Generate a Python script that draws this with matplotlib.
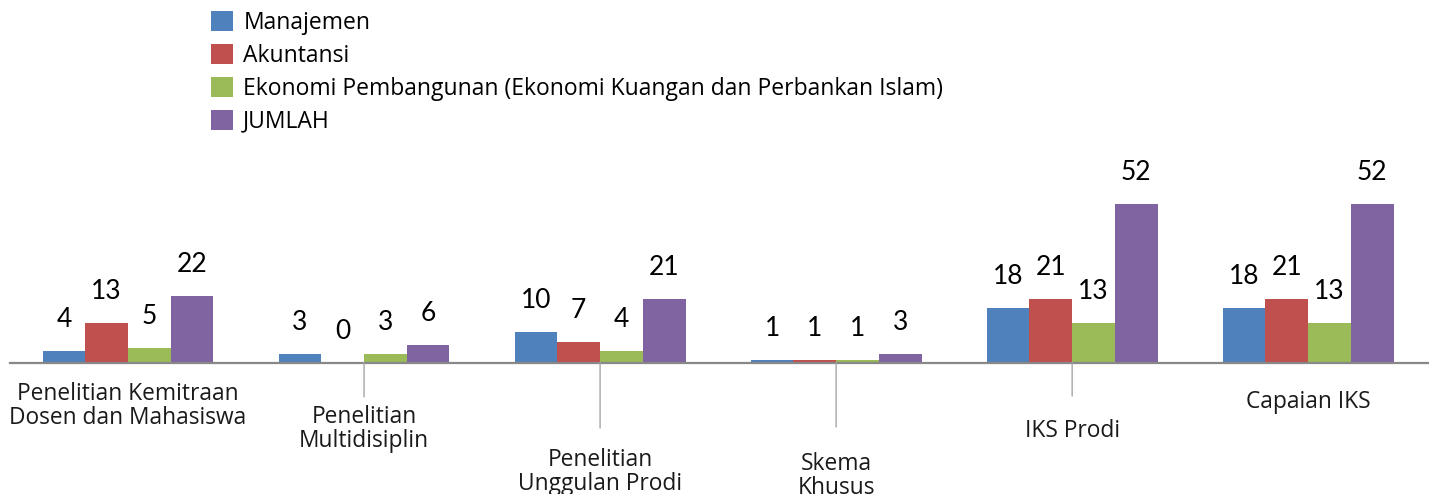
import matplotlib
matplotlib.use("Agg")
import matplotlib.pyplot as plt
from matplotlib.patches import Patch
import numpy as np

categories = ["Penelitian Kemitraan\nDosen dan Mahasiswa", "Penelitian\nMultidisiplin",
              "Penelitian\nUnggulan Prodi", "Skema\nKhusus", "IKS Prodi", "Capaian IKS"]
series_names = ["Manajemen", "Akuntansi",
                "Ekonomi Pembangunan (Ekonomi Kuangan dan Perbankan Islam)", "JUMLAH"]
manajemen = [4, 3, 10, 1, 18, 18]
akuntansi = [13, 0, 7, 1, 21, 21]
ekonomi = [5, 3, 4, 1, 13, 13]
jumlah = [22, 6, 21, 3, 52, 52]
colors = ["#4F81BD", "#C0504D", "#9BBB59", "#8064A2"]

# staggered label layout (px below axis): text top offset, leader line length
label_offset_px = [19, 42, 85, 89, 56, 27]
leader_px = [0, 34, 65, 64, 33, 0]

DPI = 100
W, H = 1429, 494
fig = plt.figure(figsize=(W / DPI, H / DPI), dpi=DPI)
ax = fig.add_axes([10 / W, 131 / H, 1428 / W, 183.6 / H])

series = [manajemen, akuntansi, ekonomi, jumlah]
x = np.arange(len(categories))
bw = 0.181
px2pt = 72 / DPI
for i, (vals, c) in enumerate(zip(series, colors)):
    xs = x + (i - 1.5) * bw
    ax.bar(xs, vals, width=bw, color=c, linewidth=0, zorder=2)
    for xi, v in zip(xs, vals):
        ax.annotate(str(v), xy=(xi, v), xytext=(0, 24 * px2pt), textcoords="offset points",
                    ha="center", va="baseline", fontsize=19, family="Lato", color="#000000")

ax.set_xlim(-0.5, 5.55)
ax.set_ylim(0, 60)
for s in ["top", "right", "left"]:
    ax.spines[s].set_visible(False)
ax.spines["bottom"].set_color("#888888")
ax.spines["bottom"].set_linewidth(1.6)
ax.set_yticks([])
ax.set_xticks([])

for xi, lab, off, ll in zip(x, categories, label_offset_px, leader_px):
    if ll > 0:
        ax.annotate("", xy=(xi, 0), xytext=(0, -ll * px2pt), textcoords="offset points",
                    arrowprops=dict(arrowstyle="-", color="#a6a6a6", lw=1.0,
                                    shrinkA=0, shrinkB=0))
    ax.annotate(lab, xy=(xi, 0), xytext=(0, -off * px2pt), textcoords="offset points",
                ha="center", va="top", fontsize=16.4, family="Open Sans",
                color="#1a1a1a", linespacing=0.98, annotation_clip=False)

handles = [Patch(facecolor=c, edgecolor="none") for c in colors]
fig.legend(handles, series_names, loc="upper left", bbox_to_anchor=(211 / W, 1 - 11 / H),
           frameon=False, prop={"family": "Open Sans", "size": 16.5},
           handlelength=0.95, handleheight=0.92, handletextpad=0.46,
           labelspacing=0.39, borderpad=0, borderaxespad=0)

fig.savefig("out.png", dpi=DPI)
